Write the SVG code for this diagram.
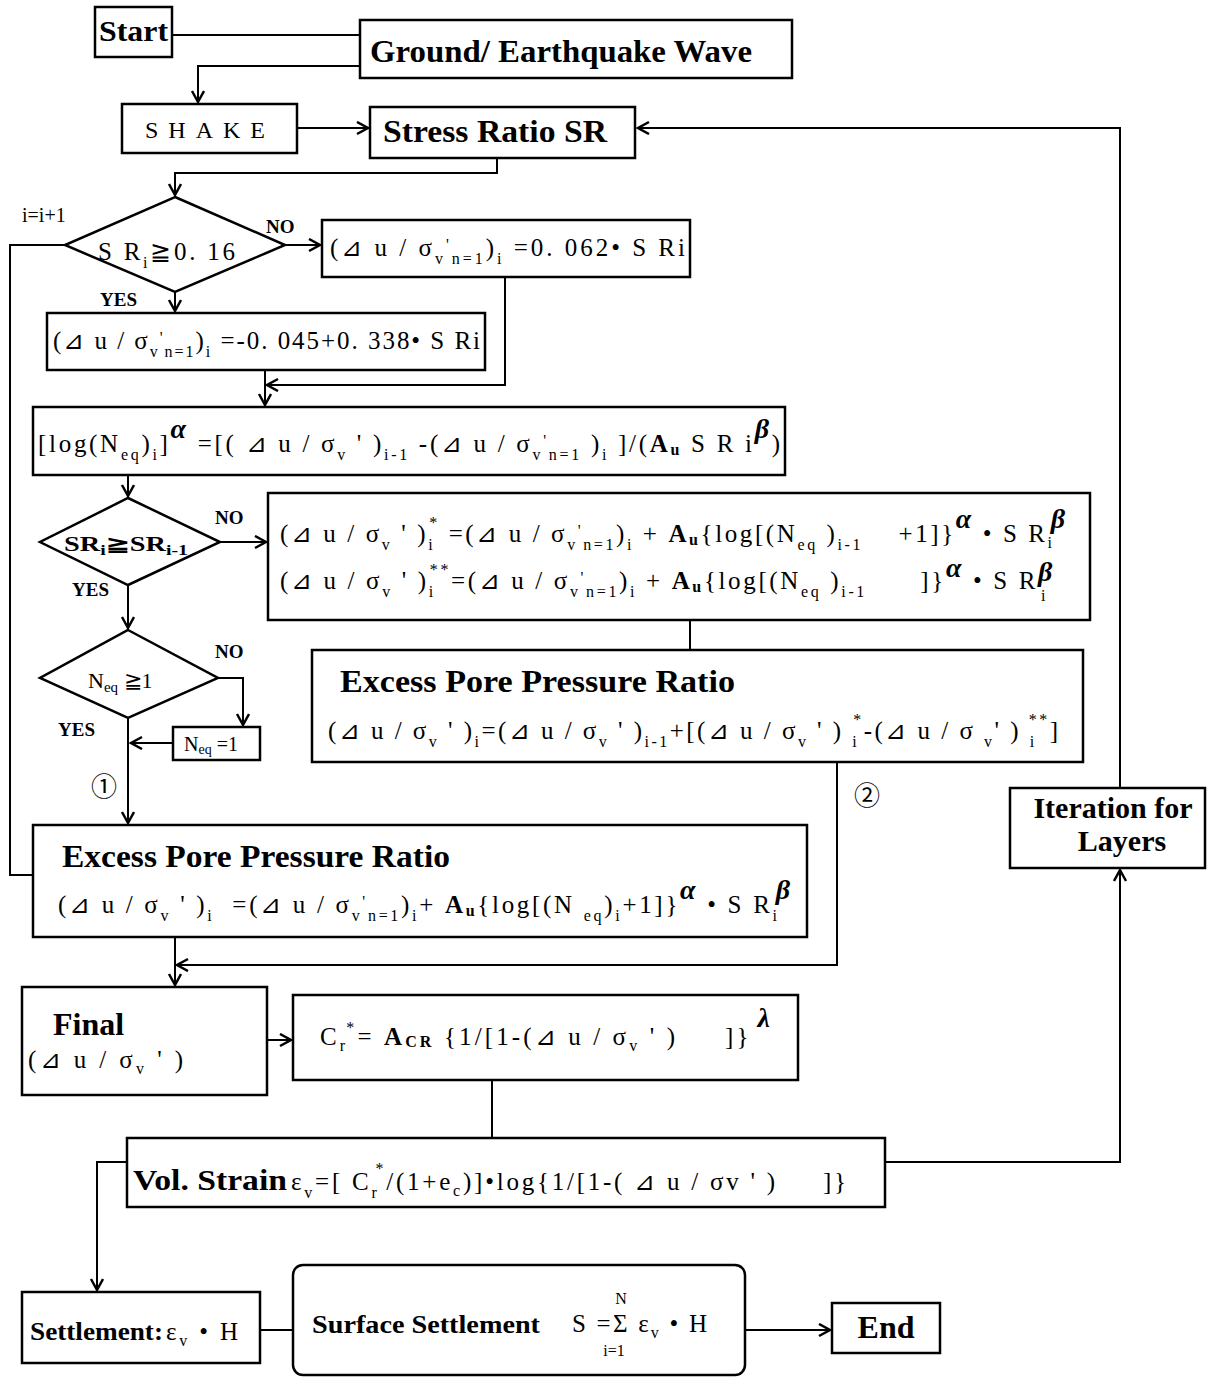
<svg xmlns="http://www.w3.org/2000/svg" width="1207" height="1378" viewBox="0 0 1207 1378">
<defs>
<marker id="ar" markerUnits="userSpaceOnUse" markerWidth="16" markerHeight="16" refX="12" refY="7" orient="auto">
<path d="M1,1 L12,7 L1,13" fill="none" stroke="#000" stroke-width="2.5"/>
</marker>
<style>
.bx{fill:#fff;stroke:#000;stroke-width:2.5}
.ln{fill:none;stroke:#000;stroke-width:2}
.t{font-family:"Liberation Serif",serif;fill:#000}
.h{font-family:"Liberation Serif",serif;font-weight:bold;fill:#000}
.f{font-family:"Liberation Serif","DejaVu Serif",serif;font-size:25px;fill:#000}
.s{font-size:16px}
.g{font-family:"Liberation Serif",serif;font-weight:bold;font-style:italic;font-size:28px}
.b{font-weight:bold}
.lb{font-family:"Liberation Serif",serif;font-weight:bold;font-size:19px;fill:#000}
.c{font-family:"Noto Sans CJK JP","DejaVu Sans",sans-serif;font-size:26px;fill:#000}
</style>
</defs>
<rect width="1207" height="1378" fill="#fff"/>

<g id="connectors">
<path class="ln" d="M172,35 H360"/>
<path class="ln" d="M360,66 H198 V102" marker-end="url(#ar)"/>
<path class="ln" d="M297,128 H368" marker-end="url(#ar)"/>
<path class="ln" d="M1120,788 V128 H638" marker-end="url(#ar)"/>
<path class="ln" d="M497,158 V173 H175 V195" marker-end="url(#ar)"/>
<path class="ln" d="M285,245 H320" marker-end="url(#ar)"/>
<path class="ln" d="M175,292 V311" marker-end="url(#ar)"/>
<path class="ln" d="M65,245 H10 V875 H33"/>
<path class="ln" d="M505,277 V385 H267" marker-end="url(#ar)"/>
<path class="ln" d="M265,370 V405" marker-end="url(#ar)"/>
<path class="ln" d="M128,475 V496" marker-end="url(#ar)"/>
<path class="ln" d="M220,542 H266" marker-end="url(#ar)"/>
<path class="ln" d="M690,620 V650"/>
<path class="ln" d="M128,585 V628" marker-end="url(#ar)"/>
<path class="ln" d="M218,678 H243 V725" marker-end="url(#ar)"/>
<path class="ln" d="M173,743 H131" marker-end="url(#ar)"/>
<path class="ln" d="M128,718 V823" marker-end="url(#ar)"/>
<path class="ln" d="M837,762 V965 H177" marker-end="url(#ar)"/>
<path class="ln" d="M175,937 V985" marker-end="url(#ar)"/>
<path class="ln" d="M885,1162 H1120 V870" marker-end="url(#ar)"/>
<path class="ln" d="M267,1040 H291" marker-end="url(#ar)"/>
<path class="ln" d="M492,1080 V1138"/>
<path class="ln" d="M127,1162 H97 V1290" marker-end="url(#ar)"/>
<path class="ln" d="M260,1330 H293"/>
<path class="ln" d="M745,1330 H830" marker-end="url(#ar)"/>
</g>

<g id="labels">
<text class="t" x="22" y="222" font-size="20">i=i+1</text>
<text class="lb" x="266" y="233">NO</text>
<text class="lb" x="100" y="306">YES</text>
<text class="lb" x="215" y="524" font-size="18">NO</text>
<text class="lb" x="72" y="596" font-size="18">YES</text>
<text class="lb" x="215" y="658" font-size="18">NO</text>
<text class="lb" x="58" y="736" font-size="18">YES</text>
<text class="c" x="91" y="796">①</text>
<text class="c" x="854" y="805">②</text>
</g>

<g id="start">
<rect class="bx" x="95" y="7" width="77" height="50"/>
<text class="h" x="99" y="41" font-size="30" textLength="69" lengthAdjust="spacingAndGlyphs">Start</text>
</g>

<g id="ground">
<rect class="bx" x="360" y="20" width="432" height="58"/>
<text class="h" x="370" y="62" font-size="32" textLength="382" lengthAdjust="spacingAndGlyphs">Ground/ Earthquake Wave</text>
</g>

<g id="shake">
<rect class="bx" x="122" y="104" width="175" height="49"/>
<text class="t" x="145" y="138" font-size="24" textLength="120" lengthAdjust="spacing">SHAKE</text>
</g>

<g id="stress-ratio">
<rect class="bx" x="370" y="107" width="265" height="51"/>
<text class="h" x="383" y="142" font-size="32" textLength="224" lengthAdjust="spacingAndGlyphs">Stress Ratio SR</text>
</g>

<g id="dec-sr">
<polygon class="bx" points="175,197 285,245 175,292 65,245"/>
<text class="f" x="98" y="260" font-size="27" textLength="137" lengthAdjust="spacing">S R<tspan class="s" dy="8" font-size="20">i</tspan><tspan dy="-8">≧0. 16</tspan></text>
</g>

<g id="du-low">
<rect class="bx" x="322" y="220" width="368" height="57"/>
<text class="f" xml:space="preserve" x="330" y="256" textLength="355" lengthAdjust="spacing">(⊿ u / σ<tspan class="s" dy="8">v</tspan><tspan class="s" dy="-14">'</tspan><tspan class="s" dy="14">n=1</tspan><tspan dy="-8">)</tspan><tspan class="s" dy="8">i</tspan><tspan dy="-8"> =0. 062• S Ri</tspan></text>
</g>

<g id="du-high">
<rect class="bx" x="47" y="313" width="438" height="57"/>
<text class="f" xml:space="preserve" x="53" y="349" textLength="427" lengthAdjust="spacing">(⊿ u / σ<tspan class="s" dy="8">v</tspan><tspan class="s" dy="-14">'</tspan><tspan class="s" dy="14">n=1</tspan><tspan dy="-8">)</tspan><tspan class="s" dy="8">i</tspan><tspan dy="-8"> =-0. 045+0. 338• S Ri</tspan></text>
</g>

<g id="neq-calc">
<rect class="bx" x="33" y="407" width="752" height="68"/>
<text class="f" xml:space="preserve" x="38" y="452" textLength="742" lengthAdjust="spacing">[log(N<tspan class="s" dy="8">eq</tspan><tspan dy="-8">)</tspan><tspan class="s" dy="8">i</tspan><tspan dy="-8">]</tspan><tspan class="g" dy="-14">α</tspan><tspan dy="14"> =[( ⊿ u / σ</tspan><tspan class="s" dy="8">v</tspan><tspan dy="-8"> ' )</tspan><tspan class="s" dy="8">i-1</tspan><tspan dy="-8"> -(⊿ u / σ</tspan><tspan class="s" dy="8">v</tspan><tspan class="s" dy="-14">'</tspan><tspan class="s" dy="14">n=1</tspan><tspan dy="-8"> )</tspan><tspan class="s" dy="8">i</tspan><tspan dy="-8"> ]/(</tspan><tspan class="b">A</tspan><tspan class="s b" dy="3">u</tspan><tspan dy="-3"> S R i</tspan><tspan class="g" dy="-14">β</tspan><tspan dy="14">)</tspan></text>
</g>

<g id="dec-sr2">
<polygon class="bx" points="128,498 220,542 128,585 40,542"/>
<text class="h" x="64" y="551" font-size="20" textLength="124" lengthAdjust="spacingAndGlyphs">SR<tspan font-size="14" dy="4">i</tspan><tspan dy="-4">≧SR</tspan><tspan font-size="14" dy="4">i-1</tspan></text>
</g>

<g id="du-star">
<rect class="bx" x="268" y="493" width="822" height="127"/>
<text class="f" xml:space="preserve" x="280" y="542" textLength="785" lengthAdjust="spacing">(⊿ u / σ<tspan class="s" dy="8">v</tspan><tspan dy="-8"> ' )</tspan><tspan class="s" dy="8">i</tspan><tspan class="s" dx="-6" dy="-22">*</tspan><tspan dy="14"> =(⊿ u / σ</tspan><tspan class="s" dy="8">v</tspan><tspan class="s" dy="-14">'</tspan><tspan class="s" dy="14">n=1</tspan><tspan dy="-8">)</tspan><tspan class="s" dy="8">i</tspan><tspan dy="-8"> + </tspan><tspan class="b">A</tspan><tspan class="s b" dy="3">u</tspan><tspan dy="-3">{log[(N</tspan><tspan class="s" dy="8">eq</tspan><tspan dy="-8"> )</tspan><tspan class="s" dy="8">i-1</tspan><tspan dy="-8">    +1]}</tspan><tspan class="g" dy="-14">α</tspan><tspan dy="14"> • S R</tspan><tspan class="s" dy="6">i</tspan><tspan class="g" dx="-4" dy="-20">β</tspan></text>
<text class="f" xml:space="preserve" x="280" y="589" textLength="775" lengthAdjust="spacing">(⊿ u / σ<tspan class="s" dy="8">v</tspan><tspan dy="-8"> ' )</tspan><tspan class="s" dy="8">i</tspan><tspan class="s" dx="-6" dy="-22">**</tspan><tspan dy="14">=(⊿ u / σ</tspan><tspan class="s" dy="8">v</tspan><tspan class="s" dy="-14">'</tspan><tspan class="s" dy="14">n=1</tspan><tspan dy="-8">)</tspan><tspan class="s" dy="8">i</tspan><tspan dy="-8"> + </tspan><tspan class="b">A</tspan><tspan class="s b" dy="3">u</tspan><tspan dy="-3">{log[(N</tspan><tspan class="s" dy="8">eq</tspan><tspan dy="-8"> )</tspan><tspan class="s" dy="8">i-1</tspan><tspan dy="-8">      ]}</tspan><tspan class="g" dy="-12">α</tspan><tspan dy="12"> • S R</tspan><tspan class="g" dy="-8">β</tspan><tspan class="s" dx="-14" dy="20">i</tspan></text>
</g>

<g id="dec-neq">
<polygon class="bx" points="128,630 218,678 128,718 40,678"/>
<text class="t" x="88" y="688" font-size="22">N<tspan font-size="15" dy="4">eq</tspan><tspan dy="-4"> ≧1</tspan></text>
</g>

<g id="neq-one">
<rect class="bx" x="173" y="727" width="87" height="33"/>
<text class="t" x="184" y="751" font-size="20">N<tspan font-size="14" dy="3">eq</tspan><tspan dy="-3"> =1</tspan></text>
</g>

<g id="epp-2">
<rect class="bx" x="312" y="650" width="771" height="112"/>
<text class="h" x="340" y="692" font-size="32" textLength="395" lengthAdjust="spacingAndGlyphs">Excess Pore Pressure Ratio</text>
<text class="f" xml:space="preserve" x="328" y="739" textLength="730" lengthAdjust="spacing">(⊿ u / σ<tspan class="s" dy="8">v</tspan><tspan dy="-8"> ' )</tspan><tspan class="s" dy="8">i</tspan><tspan dy="-8">=(⊿ u / σ</tspan><tspan class="s" dy="8">v</tspan><tspan dy="-8"> ' )</tspan><tspan class="s" dy="8">i-1</tspan><tspan dy="-8">+[(⊿ u / σ</tspan><tspan class="s" dy="8">v</tspan><tspan dy="-8"> ' ) </tspan><tspan class="s" dy="8">i</tspan><tspan class="s" dx="-6" dy="-22">*</tspan><tspan dy="14">-(⊿ u / σ </tspan><tspan class="s" dy="8">v</tspan><tspan dy="-8">' ) </tspan><tspan class="s" dy="8">i</tspan><tspan class="s" dx="-8" dy="-22">**</tspan><tspan dy="14">]</tspan></text>
</g>

<g id="epp-1">
<rect class="bx" x="33" y="825" width="774" height="112"/>
<text class="h" x="62" y="867" font-size="32" textLength="388" lengthAdjust="spacingAndGlyphs">Excess Pore Pressure Ratio</text>
<text class="f" xml:space="preserve" x="58" y="913" textLength="732" lengthAdjust="spacing">(⊿ u / σ<tspan class="s" dy="8">v</tspan><tspan dy="-8"> ' )</tspan><tspan class="s" dy="8">i</tspan><tspan dy="-8">  =(⊿ u / σ</tspan><tspan class="s" dy="8">v</tspan><tspan class="s" dy="-14">'</tspan><tspan class="s" dy="14">n=1</tspan><tspan dy="-8">)</tspan><tspan class="s" dy="8">i</tspan><tspan dy="-8">+ </tspan><tspan class="b">A</tspan><tspan class="s b" dy="3">u</tspan><tspan dy="-3">{log[(N </tspan><tspan class="s" dy="8">eq</tspan><tspan dy="-8">)</tspan><tspan class="s" dy="8">i</tspan><tspan dy="-8">+1]}</tspan><tspan class="g" dy="-14">α</tspan><tspan dy="14"> • S R</tspan><tspan class="s" dy="8">i</tspan><tspan class="g" dx="-4" dy="-22">β</tspan></text>
</g>

<g id="iteration">
<rect class="bx" x="1010" y="788" width="195" height="80"/>
<text class="h" x="1113" y="818" font-size="30" text-anchor="middle">Iteration for</text>
<text class="h" x="1122" y="851" font-size="30" text-anchor="middle">Layers</text>
</g>

<g id="final">
<rect class="bx" x="22" y="987" width="245" height="108"/>
<text class="h" x="53" y="1035" font-size="32">Final</text>
<text class="f" xml:space="preserve" x="28" y="1068" textLength="155" lengthAdjust="spacing">(⊿ u / σ<tspan class="s" dy="6">v</tspan><tspan dy="-6"> ' )</tspan></text>
</g>

<g id="cr">
<rect class="bx" x="293" y="995" width="505" height="85"/>
<text class="f" xml:space="preserve" x="320" y="1045" textLength="450" lengthAdjust="spacing">C<tspan class="s" dy="6">r</tspan><tspan class="s" dx="-2" dy="-18">*</tspan><tspan dy="12">= </tspan><tspan class="b">A</tspan><tspan class="s b" dy="2">CR</tspan><tspan dy="-2"> {1/[1-(⊿ u / σ</tspan><tspan class="s" dy="6">v</tspan><tspan dy="-6"> ' )     ]}</tspan><tspan class="g" dx="6" dy="-18" font-size="26">λ</tspan></text>
</g>

<g id="vol-strain">
<rect class="bx" x="127" y="1138" width="758" height="69"/>
<text class="h" x="133" y="1190" font-size="30" textLength="154" lengthAdjust="spacingAndGlyphs">Vol. Strain</text>
<text class="f" xml:space="preserve" x="291" y="1190" textLength="555" lengthAdjust="spacing">ε<tspan class="s" dy="8">v</tspan><tspan dy="-8">=[ C</tspan><tspan class="s" dy="8">r</tspan><tspan class="s" dx="-4" dy="-24">*</tspan><tspan dy="16">/(1+e</tspan><tspan class="s" dy="6">c</tspan><tspan dy="-6">)]•log{1/[1-( ⊿ u / σv ' )     ]}</tspan></text>
</g>

<g id="settlement">
<rect class="bx" x="22" y="1292" width="238" height="71"/>
<text class="h" x="30" y="1340" font-size="25" textLength="133" lengthAdjust="spacingAndGlyphs">Settlement:</text>
<text class="f" xml:space="preserve" x="166" y="1340" textLength="72" lengthAdjust="spacing">ε<tspan class="s" dy="6">v</tspan><tspan dy="-6"> • H</tspan></text>
</g>

<g id="surface">
<rect class="bx" x="293" y="1265" width="452" height="110" rx="10"/>
<text class="h" x="312" y="1333" font-size="25" textLength="228" lengthAdjust="spacingAndGlyphs">Surface Settlement</text>
<text class="f" xml:space="preserve" x="572" y="1332" textLength="135" lengthAdjust="spacing">S =Σ ε<tspan class="s" dy="6">v</tspan><tspan dy="-6"> • H</tspan></text>
<text class="t" x="621" y="1304" font-size="16" text-anchor="middle">N</text>
<text class="t" x="614" y="1356" font-size="16" text-anchor="middle">i=1</text>
</g>

<g id="end">
<rect class="bx" x="832" y="1303" width="108" height="50"/>
<text class="h" x="886" y="1338" font-size="32" text-anchor="middle">End</text>
</g>
</svg>
